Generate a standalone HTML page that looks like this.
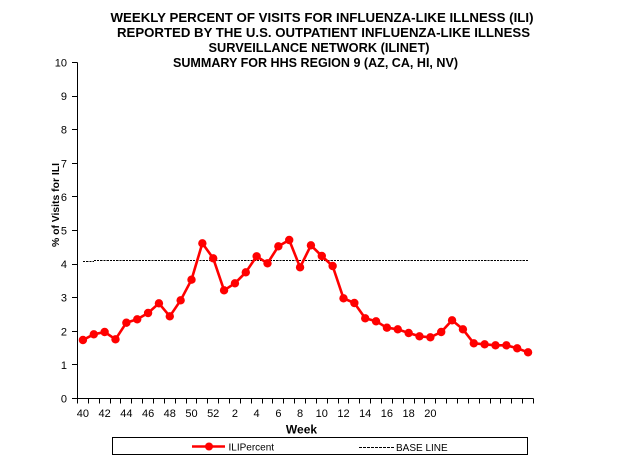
<!DOCTYPE html>
<html>
<head>
<meta charset="utf-8">
<style>
html,body{margin:0;padding:0;background:#fff;}
svg{display:block;}
text{font-family:"Liberation Sans",Arial,sans-serif;fill:#000;}
</style>
</head>
<body>
<svg width="627" height="464" viewBox="0 0 627 464" xmlns="http://www.w3.org/2000/svg">
<rect x="0" y="0" width="627" height="464" fill="#fff"/>

<!-- Title -->
<g font-weight="bold" font-size="13" style="white-space:pre">
<text x="110.5" y="22" textLength="423" lengthAdjust="spacingAndGlyphs">WEEKLY PERCENT  OF VISITS FOR INFLUENZA-LIKE  ILLNESS (ILI)</text>
<text x="117" y="37" textLength="413" lengthAdjust="spacingAndGlyphs">REPORTED  BY THE U.S. OUTPATIENT  INFLUENZA-LIKE  ILLNESS</text>
<text x="208.5" y="52" textLength="221" lengthAdjust="spacingAndGlyphs">SURVEILLANCE  NETWORK  (ILINET)</text>
<text x="173" y="67" textLength="285" lengthAdjust="spacingAndGlyphs">SUMMARY FOR HHS REGION 9 (AZ, CA, HI, NV)</text>
</g>

<!-- Axes -->
<g stroke="#000" stroke-width="1" shape-rendering="crispEdges" fill="none">
<path d="M77.5 62.5 V398.5 H533.5"/>
<path d="M72 398.5H77.5M72 364.5H77.5M72 331.5H77.5M72 297.5H77.5M72 264.5H77.5M72 230.5H77.5M72 196.5H77.5M72 163.5H77.5M72 129.5H77.5M72 96.5H77.5M72 62.5H77.5"/>
<path d="M77.5 398.5V403.5M88.5 398.5V403.5M99.5 398.5V403.5M110.5 398.5V403.5M120.5 398.5V403.5M131.5 398.5V403.5M142.5 398.5V403.5M153.5 398.5V403.5M164.5 398.5V403.5M175.5 398.5V403.5M186.5 398.5V403.5M196.5 398.5V403.5M207.5 398.5V403.5M218.5 398.5V403.5M229.5 398.5V403.5M240.5 398.5V403.5M251.5 398.5V403.5M262.5 398.5V403.5M272.5 398.5V403.5M283.5 398.5V403.5M294.5 398.5V403.5M305.5 398.5V403.5M316.5 398.5V403.5M327.5 398.5V403.5M338.5 398.5V403.5M348.5 398.5V403.5M359.5 398.5V403.5M370.5 398.5V403.5M381.5 398.5V403.5M392.5 398.5V403.5M403.5 398.5V403.5M414.5 398.5V403.5M424.5 398.5V403.5M435.5 398.5V403.5M446.5 398.5V403.5M457.5 398.5V403.5M468.5 398.5V403.5M479.5 398.5V403.5M490.5 398.5V403.5M500.5 398.5V403.5M511.5 398.5V403.5M522.5 398.5V403.5M533.5 398.5V403.5"/>
</g>

<!-- Y tick labels -->
<g font-size="11" text-anchor="end">
<text x="67" y="402.5">0</text>
<text x="67" y="368.9">1</text>
<text x="67" y="335.3">2</text>
<text x="67" y="301.7">3</text>
<text x="67" y="268.1">4</text>
<text x="67" y="234.5">5</text>
<text x="67" y="200.9">6</text>
<text x="67" y="167.3">7</text>
<text x="67" y="133.7">8</text>
<text x="67" y="100.1">9</text>
<text x="67" y="66.5">10</text>
</g>

<!-- Y axis title -->
<text transform="translate(59,205) rotate(-90)" text-anchor="middle" font-size="10.4" font-weight="bold" textLength="84" lengthAdjust="spacingAndGlyphs">% of Visits for ILI</text>

<!-- X tick labels -->
<g font-size="11" text-anchor="middle">
<text x="82.9" y="417">40</text>
<text x="104.6" y="417">42</text>
<text x="126.4" y="417">44</text>
<text x="148.1" y="417">46</text>
<text x="169.8" y="417">48</text>
<text x="191.5" y="417">50</text>
<text x="213.2" y="417">52</text>
<text x="234.9" y="417">2</text>
<text x="256.6" y="417">4</text>
<text x="278.4" y="417">6</text>
<text x="300.1" y="417">8</text>
<text x="321.8" y="417">10</text>
<text x="343.5" y="417">12</text>
<text x="365.2" y="417">14</text>
<text x="386.9" y="417">16</text>
<text x="408.6" y="417">18</text>
<text x="430.4" y="417">20</text>
</g>

<!-- X axis title -->
<text x="301.5" y="433.5" text-anchor="middle" font-size="12" font-weight="bold">Week</text>

<!-- Baseline -->
<g stroke="#000" stroke-width="1" fill="none" shape-rendering="crispEdges" stroke-dasharray="2.2 1">
<path d="M82.9 261.5H93.8"/>
<path d="M93.8 260.5H528.1"/>
</g>

<!-- ILI series -->
<polyline fill="none" stroke="#ff0000" stroke-width="2.6" stroke-linejoin="round"
points="82.93,340 93.79,334.3 104.64,332 115.50,339.3 126.36,322.7 137.21,319.3 148.07,313 158.93,303.3 169.79,316.3 180.64,300.3 191.50,279.7 202.36,243.3 213.21,258.3 224.07,290.3 234.93,283.3 245.79,272.3 256.64,256.3 267.50,263.3 278.36,246.3 289.21,240 300.07,267.3 310.93,245.3 321.79,256 332.64,266 343.50,298.3 354.36,303 365.21,318.3 376.07,321.3 386.93,327.7 397.79,329.3 408.64,333 419.50,336.3 430.36,337.3 441.21,332 452.07,320.3 462.93,329.3 473.79,343.3 484.64,344.3 495.50,345.3 506.36,345.3 517.21,348.3 528.07,352.3"/>
<g fill="#ff0000">
<circle cx="82.93" cy="340" r="4.2"/>
<circle cx="93.79" cy="334.3" r="4.2"/>
<circle cx="104.64" cy="332" r="4.2"/>
<circle cx="115.50" cy="339.3" r="4.2"/>
<circle cx="126.36" cy="322.7" r="4.2"/>
<circle cx="137.21" cy="319.3" r="4.2"/>
<circle cx="148.07" cy="313" r="4.2"/>
<circle cx="158.93" cy="303.3" r="4.2"/>
<circle cx="169.79" cy="316.3" r="4.2"/>
<circle cx="180.64" cy="300.3" r="4.2"/>
<circle cx="191.50" cy="279.7" r="4.2"/>
<circle cx="202.36" cy="243.3" r="4.2"/>
<circle cx="213.21" cy="258.3" r="4.2"/>
<circle cx="224.07" cy="290.3" r="4.2"/>
<circle cx="234.93" cy="283.3" r="4.2"/>
<circle cx="245.79" cy="272.3" r="4.2"/>
<circle cx="256.64" cy="256.3" r="4.2"/>
<circle cx="267.50" cy="263.3" r="4.2"/>
<circle cx="278.36" cy="246.3" r="4.2"/>
<circle cx="289.21" cy="240" r="4.2"/>
<circle cx="300.07" cy="267.3" r="4.2"/>
<circle cx="310.93" cy="245.3" r="4.2"/>
<circle cx="321.79" cy="256" r="4.2"/>
<circle cx="332.64" cy="266" r="4.2"/>
<circle cx="343.50" cy="298.3" r="4.2"/>
<circle cx="354.36" cy="303" r="4.2"/>
<circle cx="365.21" cy="318.3" r="4.2"/>
<circle cx="376.07" cy="321.3" r="4.2"/>
<circle cx="386.93" cy="327.7" r="4.2"/>
<circle cx="397.79" cy="329.3" r="4.2"/>
<circle cx="408.64" cy="333" r="4.2"/>
<circle cx="419.50" cy="336.3" r="4.2"/>
<circle cx="430.36" cy="337.3" r="4.2"/>
<circle cx="441.21" cy="332" r="4.2"/>
<circle cx="452.07" cy="320.3" r="4.2"/>
<circle cx="462.93" cy="329.3" r="4.2"/>
<circle cx="473.79" cy="343.3" r="4.2"/>
<circle cx="484.64" cy="344.3" r="4.2"/>
<circle cx="495.50" cy="345.3" r="4.2"/>
<circle cx="506.36" cy="345.3" r="4.2"/>
<circle cx="517.21" cy="348.3" r="4.2"/>
<circle cx="528.07" cy="352.3" r="4.2"/>
</g>

<!-- Legend -->
<rect x="112.5" y="437.5" width="415" height="17" fill="#fff" stroke="#000" stroke-width="1" shape-rendering="crispEdges"/>
<line x1="192" y1="446.5" x2="225" y2="446.5" stroke="#ff0000" stroke-width="2.6"/>
<circle cx="209" cy="446.5" r="4" fill="#ff0000"/>
<text x="228.5" y="450.5" font-size="10">ILIPercent</text>
<line x1="359" y1="447.5" x2="394" y2="447.5" stroke="#000" stroke-width="1" stroke-dasharray="3 1" shape-rendering="crispEdges"/>
<text x="396" y="451" font-size="10">BASE LINE</text>
</svg>
</body>
</html>
